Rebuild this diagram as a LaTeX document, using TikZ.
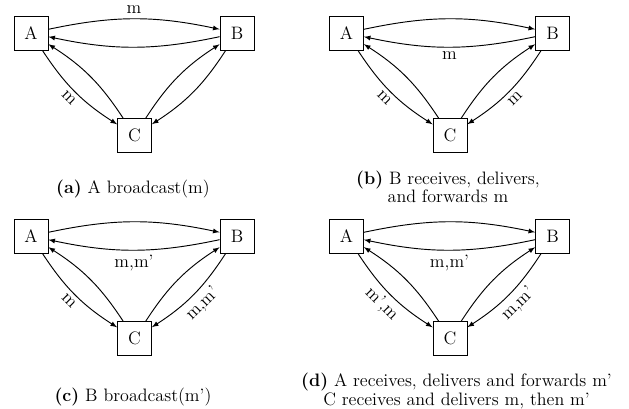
\documentclass[tikz,border=0pt]{standalone}
\usetikzlibrary{arrows,positioning}

\tikzset{
  proc/.style={draw, line width=0.65pt, minimum size=25.5pt, inner sep=0pt},
  msg/.style={->, >=latex, line width=0.7pt},
}

\begin{document}
\begin{tikzpicture}[x=0.75pt,y=-0.75pt,font=\fontsize{13.5}{11.5}\selectfont]
\useasboundingbox (0,0) rectangle (629,409);
% (a) A broadcasts m
\begin{scope}[shift={(31,33)}]
\node[proc] (Aa) at (0,0) {A};
\node[proc] (Ba) at (206,0) {B};
\node[proc] (Ca) at (103.5,102.5) {C};
\draw[msg] (Aa) to[bend left=12] node[above] {m} (Ba);
\draw[msg] (Ba) to[bend left=12] (Aa);
\draw[msg] (Aa) to[bend right=12] node[sloped,below] {m} (Ca);
\draw[msg] (Ca) to[bend right=12] (Aa);
\draw[msg] (Ca) to[bend left=12] (Ba);
\draw[msg] (Ba) to[bend left=12] (Ca);
\node (capa) at (102,156.5) {\textbf{(a)} A broadcast(m)};
\end{scope}
% (b) B forwards m
\begin{scope}[shift={(346.5,33)}]
\node[proc] (Ab) at (0,0) {A};
\node[proc] (Bb) at (206,0) {B};
\node[proc] (Cb) at (103.5,102.5) {C};
\draw[msg] (Ab) to[bend left=12] (Bb);
\draw[msg] (Bb) to[bend left=12] node[below] {m} (Ab);
\draw[msg] (Ab) to[bend right=12] node[sloped,below] {m} (Cb);
\draw[msg] (Cb) to[bend right=12] (Ab);
\draw[msg] (Cb) to[bend left=12] (Bb);
\draw[msg] (Bb) to[bend left=12] node[sloped,below] {m} (Cb);
\node[align=center] (capb) at (101.5,154) {\textbf{(b)} B receives, delivers,\\ and forwards m};
\end{scope}
% (c) B broadcasts m'
\begin{scope}[shift={(31,236)}]
\node[proc] (Ac) at (0,0) {A};
\node[proc] (Bc) at (206,0) {B};
\node[proc] (Cc) at (103.5,102.5) {C};
\draw[msg] (Ac) to[bend left=12] (Bc);
\draw[msg] (Bc) to[bend left=12] node[below] {m,m'} (Ac);
\draw[msg] (Ac) to[bend right=12] node[sloped,below] {m} (Cc);
\draw[msg] (Cc) to[bend right=12] (Ac);
\draw[msg] (Cc) to[bend left=12] (Bc);
\draw[msg] (Bc) to[bend left=12] node[sloped,below] {m,m'} (Cc);
\node (capc) at (102,161) {\textbf{(c)} B broadcast(m')};
\end{scope}
% (d) A forwards m', C delivers
\begin{scope}[shift={(346.5,236)}]
\node[proc] (Ad) at (0,0) {A};
\node[proc] (Bd) at (206,0) {B};
\node[proc] (Cd) at (103.5,102.5) {C};
\draw[msg] (Ad) to[bend left=12] (Bd);
\draw[msg] (Bd) to[bend left=12] node[below] {m,m'} (Ad);
\draw[msg] (Ad) to[bend right=12] node[sloped,below] {m',m} (Cd);
\draw[msg] (Cd) to[bend right=12] (Ad);
\draw[msg] (Cd) to[bend left=12] (Bd);
\draw[msg] (Bd) to[bend left=12] node[sloped,below] {m,m'} (Cd);
\node[align=center] (capd) at (110,155) {\textbf{(d)} A receives, delivers and forwards m'\\ C receives and delivers m, then m'};
\end{scope}
\end{tikzpicture}
\end{document}
